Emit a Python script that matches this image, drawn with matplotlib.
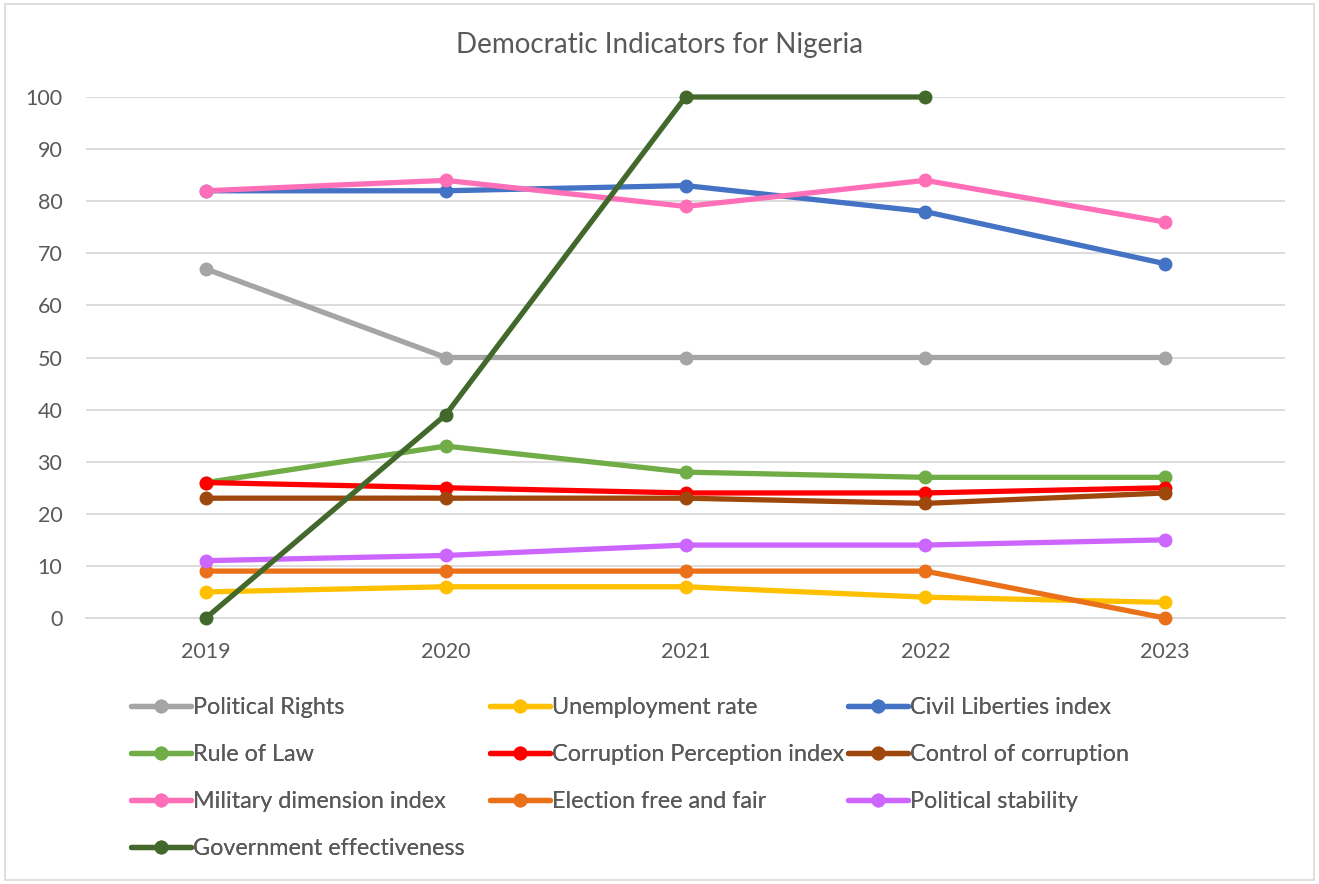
import matplotlib
matplotlib.use("Agg")
import matplotlib.pyplot as plt
from matplotlib.patches import Rectangle
import numpy as np

plt.rcParams['font.family'] = ['Lato', 'DejaVu Sans']

years = ["2019", "2020", "2021", "2022", "2023"]
political_rights = [67, 50, 50, 50, 50]
unemployment_rate = [5, 6, 6, 4, 3]
civil_liberties = [82, 82, 83, 78, 68]
rule_of_law = [26, 33, 28, 27, 27]
corruption_perception = [26, 25, 24, 24, 25]
control_of_corruption = [23, 23, 23, 22, 24]
military_dimension = [82, 84, 79, 84, 76]
election_free_fair = [9, 9, 9, 9, 0]
political_stability = [11, 12, 14, 14, 15]
government_effectiveness = [0, 39, 100, 100, np.nan]

series = [
    ("Political Rights", political_rights, "#A5A5A5"),
    ("Unemployment rate", unemployment_rate, "#FFC000"),
    ("Civil Liberties index", civil_liberties, "#4472C4"),
    ("Rule of Law", rule_of_law, "#70AD47"),
    ("Corruption Perception index", corruption_perception, "#FF0000"),
    ("Control of corruption", control_of_corruption, "#9E480E"),
    ("Military dimension index", military_dimension, "#FF6FB8"),
    ("Election free and fair", election_free_fair, "#EA7019"),
    ("Political stability", political_stability, "#CC66FF"),
    ("Government effectiveness", government_effectiveness, "#43682B"),
]

fig = plt.figure(figsize=(13.19, 8.84), dpi=100)
fig.patches.append(Rectangle((0.004, 0.004), 0.992, 0.992, transform=fig.transFigure,
                             fill=False, edgecolor="#D9D9D9", linewidth=1.2))
ax = fig.add_axes([86/1319, 1-618/884, (1285-86)/1319, (618-97)/884])

x = np.arange(len(years))
handles = {}
for i, (name, vals, col) in enumerate(series):
    ln, = ax.plot(x, vals, color=col, linewidth=3.8, marker='o', markersize=9,
                  label=name, clip_on=False, zorder=3 + i * 0.1,
                  solid_capstyle='round')
    handles[name] = ln

ax.set_xlim(-0.5, 4.5)
ax.set_ylim(0, 100)
ax.set_yticks(range(0, 101, 10))
ax.set_xticks(x)
ax.set_xticklabels(years)
ax.grid(axis='y', color="#D9D9D9", linewidth=1.3, zorder=0)
ax.set_axisbelow(True)
for s in ['top', 'right', 'left']:
    ax.spines[s].set_visible(False)
ax.spines['bottom'].set_color("#D9D9D9")
ax.spines['bottom'].set_linewidth(1.3)
ax.tick_params(axis='both', length=0, labelsize=15.5, colors="#595959")
ax.tick_params(axis='x', pad=17)
ax.tick_params(axis='y', pad=17)

fig.text(0.5, 1-45/884, "Democratic Indicators for Nigeria", ha='center', va='center',
         fontsize=20, color="#595959")

cols = [
    ["Political Rights", "Rule of Law", "Military dimension index", "Government effectiveness"],
    ["Unemployment rate", "Corruption Perception index", "Election free and fair"],
    ["Civil Liberties index", "Control of corruption", "Political stability"],
]
xs = [131, 490, 848]
for cx, names in zip(xs, cols):
    leg = fig.legend([handles[n] for n in names], names, loc='upper left',
                     bbox_to_anchor=(cx/1319, 1-697/884), frameon=False,
                     fontsize=16.8, handlelength=2.55, handletextpad=0.1,
                     labelspacing=1.11, borderpad=0, borderaxespad=0,
                     labelcolor="#595959")
    fig.add_artist(leg)

fig.savefig("out.png", dpi=100)
